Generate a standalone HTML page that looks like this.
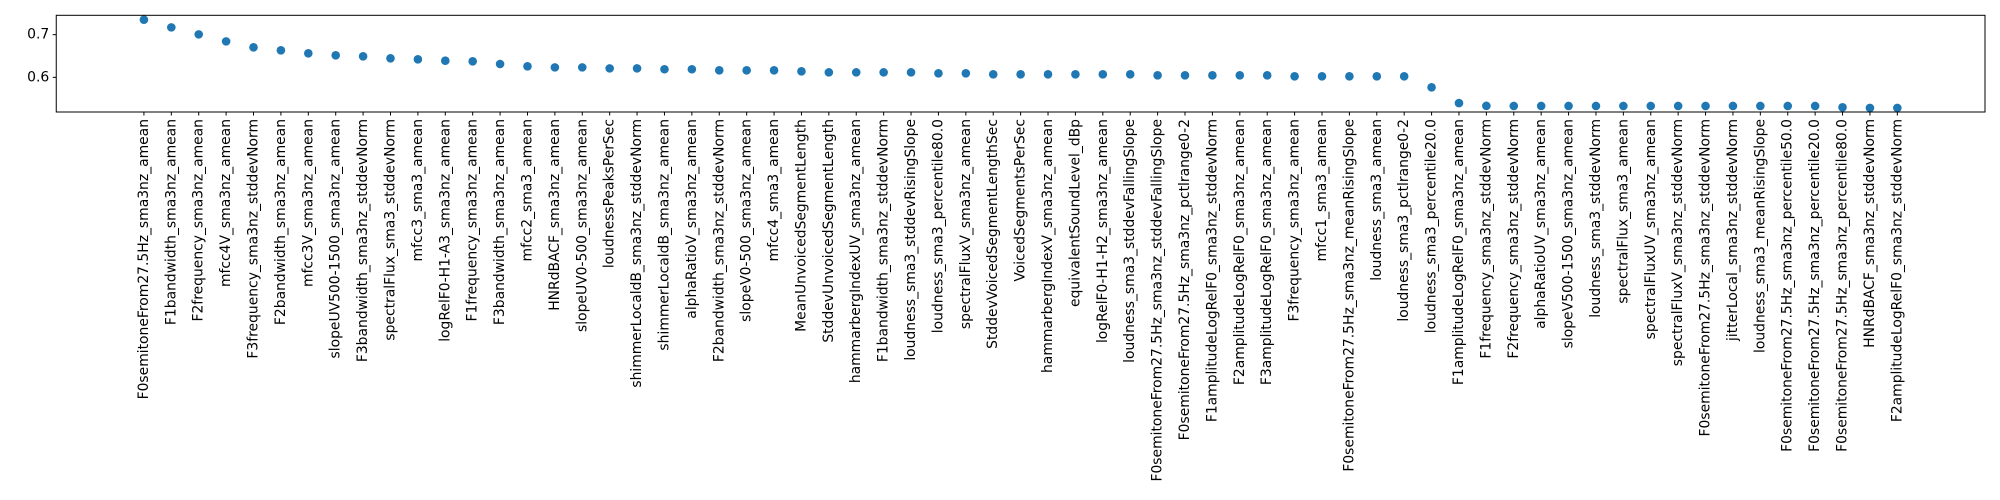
<!DOCTYPE html>
<html><head><meta charset="utf-8"><style>
html,body{margin:0;padding:0;background:#fff;}
svg{display:block;font-family:"DejaVu Sans","Liberation Sans",sans-serif;}
</style></head><body>
<svg id="chart" width="2000" height="500" viewBox="0 0 2000 500" xmlns="http://www.w3.org/2000/svg">
<rect width="2000" height="500" fill="#fff"/>
<g id="marks"></g>
<rect x="56.25" y="15.3" width="1928.75" height="96.7" fill="none" stroke="#000" stroke-width="1"/>
</svg>
<script>
const categories = ["F0semitoneFrom27.5Hz_sma3nz_amean","F1bandwidth_sma3nz_amean","F2frequency_sma3nz_amean","mfcc4V_sma3nz_amean","F3frequency_sma3nz_stddevNorm","F2bandwidth_sma3nz_amean","mfcc3V_sma3nz_amean","slopeUV500-1500_sma3nz_amean","F3bandwidth_sma3nz_stddevNorm","spectralFlux_sma3_stddevNorm","mfcc3_sma3_amean","logRelF0-H1-A3_sma3nz_amean","F1frequency_sma3nz_amean","F3bandwidth_sma3nz_amean","mfcc2_sma3_amean","HNRdBACF_sma3nz_amean","slopeUV0-500_sma3nz_amean","loudnessPeaksPerSec","shimmerLocaldB_sma3nz_stddevNorm","shimmerLocaldB_sma3nz_amean","alphaRatioV_sma3nz_amean","F2bandwidth_sma3nz_stddevNorm","slopeV0-500_sma3nz_amean","mfcc4_sma3_amean","MeanUnvoicedSegmentLength","StddevUnvoicedSegmentLength","hammarbergIndexUV_sma3nz_amean","F1bandwidth_sma3nz_stddevNorm","loudness_sma3_stddevRisingSlope","loudness_sma3_percentile80.0","spectralFluxV_sma3nz_amean","StddevVoicedSegmentLengthSec","VoicedSegmentsPerSec","hammarbergIndexV_sma3nz_amean","equivalentSoundLevel_dBp","logRelF0-H1-H2_sma3nz_amean","loudness_sma3_stddevFallingSlope","F0semitoneFrom27.5Hz_sma3nz_stddevFallingSlope","F0semitoneFrom27.5Hz_sma3nz_pctlrange0-2","F1amplitudeLogRelF0_sma3nz_stddevNorm","F2amplitudeLogRelF0_sma3nz_amean","F3amplitudeLogRelF0_sma3nz_amean","F3frequency_sma3nz_amean","mfcc1_sma3_amean","F0semitoneFrom27.5Hz_sma3nz_meanRisingSlope","loudness_sma3_amean","loudness_sma3_pctlrange0-2","loudness_sma3_percentile20.0","F1amplitudeLogRelF0_sma3nz_amean","F1frequency_sma3nz_stddevNorm","F2frequency_sma3nz_stddevNorm","alphaRatioUV_sma3nz_amean","slopeV500-1500_sma3nz_amean","loudness_sma3_stddevNorm","spectralFlux_sma3_amean","spectralFluxUV_sma3nz_amean","spectralFluxV_sma3nz_stddevNorm","F0semitoneFrom27.5Hz_sma3nz_stddevNorm","jitterLocal_sma3nz_stddevNorm","loudness_sma3_meanRisingSlope","F0semitoneFrom27.5Hz_sma3nz_percentile50.0","F0semitoneFrom27.5Hz_sma3nz_percentile20.0","F0semitoneFrom27.5Hz_sma3nz_percentile80.0","HNRdBACF_sma3nz_stddevNorm","F2amplitudeLogRelF0_sma3nz_stddevNorm"];
const scores = [0.7351,0.7171,0.7007,0.6843,0.6703,0.6633,0.6563,0.6516,0.6493,0.6446,0.6422,0.639,0.6376,0.6313,0.6258,0.6234,0.6234,0.621,0.621,0.619,0.619,0.6164,0.6164,0.6164,0.6141,0.6117,0.6117,0.6117,0.6117,0.6094,0.6094,0.6071,0.6071,0.6071,0.6071,0.6071,0.6071,0.6047,0.6047,0.6047,0.6047,0.6047,0.6024,0.6024,0.6024,0.6024,0.6024,0.5766,0.5397,0.5332,0.5329,0.5329,0.5329,0.5329,0.5329,0.5329,0.5329,0.5329,0.5329,0.5329,0.5329,0.5329,0.5298,0.5283,0.5283];
const yTicks = [0.6, 0.7];

const L=56.25, R=1985, T=15.3, B=112;
const n = categories.length;
const xMin=-0.05*(n-1), xMax=(n-1)*1.05;
const yMin=0.5188, yMax=0.7454;
const xs = i => L + (i - xMin)/(xMax - xMin)*(R-L);
const ys = v => B - (v - yMin)/(yMax - yMin)*(B-T);
const NS="http://www.w3.org/2000/svg";
const g=document.getElementById('marks');
function mk(tag, attrs){const e=document.createElementNS(NS,tag);for(const k in attrs)e.setAttribute(k,attrs[k]);g.appendChild(e);return e;}

yTicks.forEach(t=>{
  const y=ys(t);
  const tk=mk('line',{x1:L-3.5,x2:L,y1:y,y2:y,stroke:'#000','stroke-width':1});
  
  
  const tx=mk('text',{x:L-7,y:y,'font-size':13.9,'text-anchor':'end','dominant-baseline':'central',fill:'#000'});
  
  
  tx.textContent=t.toFixed(1);
});

categories.forEach((c,i)=>{
  const x=xs(i);
  const tk=mk('line',{x1:x,x2:x,y1:B,y2:B+3.5,stroke:'#000','stroke-width':1});
  
  
  const tx=mk('text',{x:0,y:0,'font-size':13.9,'text-anchor':'end','dominant-baseline':'central',fill:'#000',transform:`translate(${x},${B+7}) rotate(-90)`});
  
  
  tx.textContent=c;
});

scores.forEach((v,i)=>{
  const p=mk('ellipse',{cx:xs(i),cy:ys(v),rx:4.3,ry:4.3,fill:'#1f77b4'});
  
  
});
</script>
</body></html>
